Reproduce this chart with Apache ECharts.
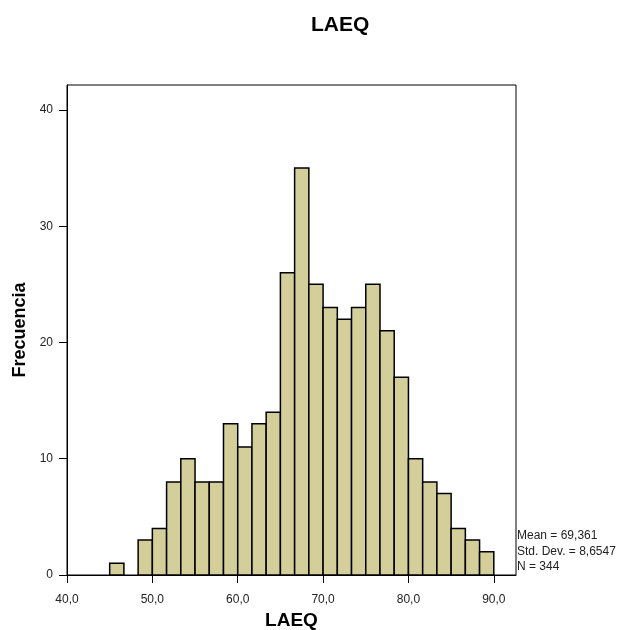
<!DOCTYPE html>
<html>
<head>
    <meta charset="utf-8">
    <script src="https://cdn.jsdelivr.net/npm/echarts@6/dist/echarts.min.js"></script>
</head>
<body style="margin:0;background:#fff;">
    <div id="main" style="width: 639px;height:630px;"></div>
    <script type="text/javascript">
        // histogram bins (LAEQ), width 10/6
        var binStart = [45, 46.667, 48.333, 50, 51.667, 53.333, 55, 56.667, 58.333, 60, 61.667, 63.333, 65, 66.667, 68.333,
                        70, 71.667, 73.333, 75, 76.667, 78.333, 80, 81.667, 83.333, 85, 86.667, 88.333];
        var binEnd   = [46.667, 48.333, 50, 51.667, 53.333, 55, 56.667, 58.333, 60, 61.667, 63.333, 65, 66.667, 68.333, 70,
                        71.667, 73.333, 75, 76.667, 78.333, 80, 81.667, 83.333, 85, 86.667, 88.333, 90];
        var counts   = [1, 0, 3, 4, 8, 10, 8, 8, 13, 11, 13, 14, 26, 35, 25, 23, 22, 23, 25, 21, 17, 10, 8, 7, 4, 3, 2];
        var statLines = ['Mean = 69,361', 'Std. Dev. = 8,6547', 'N = 344'];

        var font = 'Arial, "Liberation Sans", sans-serif';
        var data = [];
        for (var i = 0; i < counts.length; i++) {
            data.push([binStart[i], binEnd[i], counts[i]]);
        }

        var myChart = echarts.init(document.getElementById('main'));
        myChart.setOption({
            animation: false,
            title: {
                text: 'LAEQ',
                left: 311,
                top: 15,
                padding: 0,
                textStyle: { fontFamily: font, fontSize: 21, fontWeight: 'bold', color: '#000' }
            },
            grid: {
                left: 67, right: 123, top: 85, bottom: 55,
                containLabel: false,
                outerBoundsMode: 'none',
                show: true, borderColor: '#000', borderWidth: 1
            },
            xAxis: {
                type: 'value',
                min: 40, max: 92.6, interval: 10,
                name: 'LAEQ',
                nameLocation: 'middle',
                nameGap: 36,
                nameTextStyle: { fontFamily: font, fontSize: 19, fontWeight: 'bold', color: '#000' },
                axisLine: { lineStyle: { color: '#000', width: 1 } },
                axisTick: { length: 8, lineStyle: { color: '#000' } },
                axisLabel: {
                    margin: 19,
                    showMaxLabel: false,
                    fontFamily: font, fontSize: 12, color: '#222',
                    formatter: function (v) { return v.toFixed(1).replace('.', ','); }
                },
                splitLine: { show: false }
            },
            yAxis: {
                type: 'value',
                min: 0, max: 42.15, interval: 10,
                name: 'Frecuencia',
                nameLocation: 'middle',
                nameGap: 35,
                nameTextStyle: { fontFamily: font, fontSize: 18, fontWeight: 'bold', color: '#000' },
                axisLine: { show: true, lineStyle: { color: '#000', width: 1 } },
                axisTick: { show: true, length: 8, lineStyle: { color: '#000' } },
                axisLabel: { margin: 14, showMaxLabel: false, fontFamily: font, fontSize: 12, color: '#222' },
                splitLine: { show: false }
            },
            graphic: [{
                type: 'text',
                left: 517,
                top: 528,
                style: {
                    text: statLines.join('\n'),
                    font: '12px ' + font,
                    lineHeight: 15.5,
                    fill: '#222'
                }
            }],
            series: [{
                type: 'custom',
                data: data,
                encode: { x: [0, 1], y: 2 },
                renderItem: function (params, api) {
                    if (api.value(2) === 0) return;
                    var p0 = api.coord([api.value(0), 0]);
                    var p1 = api.coord([api.value(1), api.value(2)]);
                    return {
                        type: 'rect',
                        shape: { x: p0[0], y: p1[1], width: p1[0] - p0[0], height: p0[1] - p1[1] },
                        style: { fill: '#D4CF9A', stroke: '#000', lineWidth: 1.5 }
                    };
                }
            }]
        });
    </script>
</body>
</html>
